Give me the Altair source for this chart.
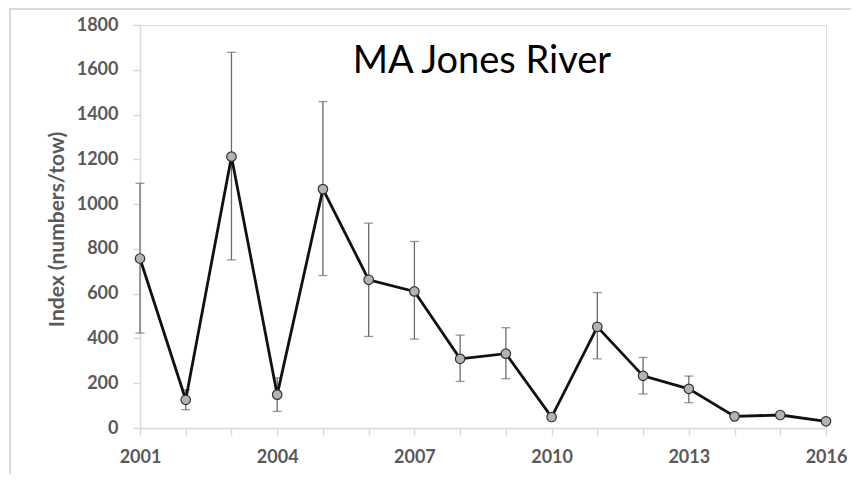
import altair as alt
import pandas as pd

years = list(range(2001, 2017))
index_vals = [757, 126, 1212, 149, 1067, 662, 610, 309, 332, 49, 452, 233, 175, 52, 58, 30]
upper = [1093, 171, 1678, 224, 1458, 915, 833, 415, 448, None, 605, 315, 232, None, None, None]
lower = [424, 82, 751, 74, 681, 409, 397, 208, 220, None, 309, 152, 113, None, None, None]
y_ticks = list(range(0, 2000, 200))
x_label_years = [2001, 2004, 2007, 2010, 2013, 2016]
title_text = "MA Jones River"
y_title = "Index (numbers/tow)"

df = pd.DataFrame({"year": years, "idx": index_vals, "hi": upper, "lo": lower})
err = df.dropna()

FONT = "Lato"
LABEL_COLOR = "#595959"
AXIS_COLOR = "#d9d9d9"

x_enc = alt.X(
    "year:Q",
    scale=alt.Scale(domain=[2001, 2016], nice=False, zero=False),
    axis=alt.Axis(
        values=years,
        format="d",
        labelExpr="indexof([" + ",".join(str(v) for v in x_label_years) + "], datum.value) >= 0 ? datum.label : ''",
        title=None,
        grid=False,
        domainColor=AXIS_COLOR,
        domainWidth=1.5,
        tickColor=AXIS_COLOR,
        tickWidth=1.5,
        tickSize=7,
        labelPadding=13,
        labelFont=FONT,
        labelFontSize=18,
        labelFontWeight="bold",
        labelColor=LABEL_COLOR,
        labelFlush=False,
        labelOverlap=False,
    ),
)

y_scale = alt.Scale(domain=[0, 1800], nice=False)
y_axis = alt.Axis(
    values=y_ticks,
    format="d",
    title=y_title,
    grid=False,
    domainColor=AXIS_COLOR,
    domainWidth=1.5,
    tickColor=AXIS_COLOR,
    tickWidth=1.5,
    tickSize=7,
    labelPadding=15,
    labelFont=FONT,
    labelFontSize=18,
    labelFontWeight="bold",
    labelColor=LABEL_COLOR,
    titleFont=FONT,
    titleFontSize=21,
    titleFontWeight="bold",
    titleColor=LABEL_COLOR,
    titleAngle=-90,
    titleAlign="center",
    titleBaseline="middle",
    titleX=-83,
    titleY=204,
)

base = alt.Chart(df)

err_rule = alt.Chart(err).mark_rule(color="#6b6b6b", strokeWidth=1.3).encode(
    x=x_enc, y=alt.Y("lo:Q", scale=y_scale, axis=y_axis), y2="hi:Q"
)
cap_hi = alt.Chart(err).mark_tick(color="#6b6b6b", thickness=1.3, size=9, orient="horizontal").encode(
    x="year:Q", y="hi:Q"
)
cap_lo = alt.Chart(err).mark_tick(color="#6b6b6b", thickness=1.3, size=9, orient="horizontal").encode(
    x="year:Q", y="lo:Q"
)
line = base.mark_line(color="#111111", strokeWidth=2.8).encode(x="year:Q", y="idx:Q")
pts = base.mark_point(filled=True, fill="#b3b3b3", stroke="#333333", strokeWidth=1.2, size=90, opacity=1).encode(
    x="year:Q", y="idx:Q"
)

title_mark = alt.Chart(pd.DataFrame({"t": [title_text]})).mark_text(
    font=FONT, fontSize=38, color="#000000", align="center", baseline="alphabetic"
).encode(text="t:N", x=alt.value(342), y=alt.value(48))

frame_left = alt.Chart(pd.DataFrame({"a": [0]})).mark_rule(color=AXIS_COLOR, strokeWidth=2).encode(
    x=alt.value(-130), y=alt.value(-17), y2=alt.value(460)
)
frame_top = alt.Chart(pd.DataFrame({"a": [0]})).mark_rule(color=AXIS_COLOR, strokeWidth=2).encode(
    x=alt.value(-130), x2=alt.value(720), y=alt.value(-16)
)

chart = (
    alt.layer(frame_left, frame_top, err_rule, cap_hi, cap_lo, line, pts, title_mark)
    .properties(
        width=686,
        height=403,
        autosize=alt.AutoSizeParams(type="none"),
        padding={"left": 132, "top": 17, "right": 25, "bottom": 46},
    )
    .configure_view(stroke=None)
    .configure(background="white")
)

chart.save("out.html", embed_options={"renderer": "svg", "actions": False})
